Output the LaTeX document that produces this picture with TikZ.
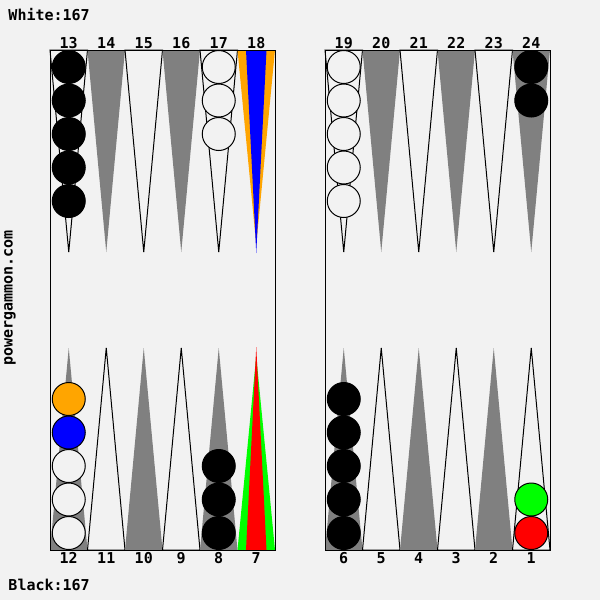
\documentclass[tikz,border=0pt]{standalone}
\usepackage{fontspec}
\setmonofont{DejaVu Sans Mono}
\usetikzlibrary{positioning}
\definecolor{boardbg}{RGB}{242,242,242}
\definecolor{pointgray}{RGB}{128,128,128}
\definecolor{chorange}{RGB}{255,165,0}
\definecolor{chgreen}{RGB}{0,255,0}

\begin{document}
\begin{tikzpicture}[x=0.5pt, y=-0.5pt, line width=0.5pt,
  lbl/.style={font=\fontsize{7.5}{9}\selectfont\ttfamily\bfseries, inner sep=0pt},
  darkpt/.style={fill=pointgray},
  lightpt/.style={fill=boardbg, draw=black},
  checker/.style={draw=black, line width=0.5pt}]
\useasboundingbox (0,0) rectangle (600,600);
\fill[boardbg] (0,0) rectangle (600,600);

% points, top row
\foreach \k in {0,...,4}{
  \pgfmathsetmacro{\xl}{50+37.5*\k}
  \ifodd\k \def\ptstyle{darkpt}\else \def\ptstyle{lightpt}\fi
  \path[\ptstyle] (\xl,50) -- ++(37.5,0) -- (\xl+18.75,252) -- cycle;
}
\foreach \k in {0,...,5}{
  \pgfmathsetmacro{\xl}{325+37.5*\k}
  \ifodd\k \def\ptstyle{darkpt}\else \def\ptstyle{lightpt}\fi
  \path[\ptstyle] (\xl,50) -- ++(37.5,0) -- (\xl+18.75,252) -- cycle;
}
% points, bottom row
\foreach \k in {0,...,4}{
  \pgfmathsetmacro{\xl}{50+37.5*\k}
  \ifodd\k \def\ptstyle{lightpt}\else \def\ptstyle{darkpt}\fi
  \path[\ptstyle] (\xl,550) -- ++(37.5,0) -- (\xl+18.75,348) -- cycle;
}
\foreach \k in {0,...,5}{
  \pgfmathsetmacro{\xl}{325+37.5*\k}
  \ifodd\k \def\ptstyle{lightpt}\else \def\ptstyle{darkpt}\fi
  \path[\ptstyle] (\xl,550) -- ++(37.5,0) -- (\xl+18.75,348) -- cycle;
}

% marked points 18 and 7
\fill[chorange] (237.5,50) -- (275,50) -- (256.25,245) -- cycle;
\fill[blue] (246,50) -- (266.5,50) -- (256.25,253) -- cycle;
\fill[chgreen] (237.5,550) -- (275,550) -- (256.25,356) -- cycle;
\fill[red] (246,550) -- (266.5,550) -- (256.25,347) -- cycle;

% checkers
\foreach \i in {0,...,4}{
  \filldraw[checker, fill=black] (68.75,67+33.5*\i) circle[radius=8.25pt];
  \filldraw[checker, fill=boardbg] (343.75,67+33.5*\i) circle[radius=8.25pt];
  \filldraw[checker, fill=black] (343.75,533-33.5*\i) circle[radius=8.25pt];
}
\foreach \i in {0,...,2}{
  \filldraw[checker, fill=boardbg] (218.75,67+33.5*\i) circle[radius=8.25pt];
  \filldraw[checker, fill=black] (218.75,533-33.5*\i) circle[radius=8.25pt];
  \filldraw[checker, fill=boardbg] (68.75,533-33.5*\i) circle[radius=8.25pt];
}
\foreach \i in {0,1}
  \filldraw[checker, fill=black] (531.25,67+33.5*\i) circle[radius=8.25pt];
\filldraw[checker, fill=blue] (68.75,432.5) circle[radius=8.25pt];
\filldraw[checker, fill=chorange] (68.75,399) circle[radius=8.25pt];
\filldraw[checker, fill=red] (531.25,533) circle[radius=8.25pt];
\filldraw[checker, fill=chgreen] (531.25,499.5) circle[radius=8.25pt];

% board frame
\draw (50,50) rectangle (275,550);
\draw (325,50) rectangle (550,550);

% point numbers
\foreach \n [count=\k from 0] in {13,14,15,16,17,18}{
  \node[lbl] (top\n) at (68.75+37.5*\k,43) {\n};
  \node[lbl] (top\the\numexpr\n+6\relax) at (343.75+37.5*\k,43) {\the\numexpr\n+6\relax};
}
\foreach \n [count=\k from 0] in {12,11,10,9,8,7}{
  \node[lbl] (bot\n) at (68.75+37.5*\k,558) {\n};
  \node[lbl] (bot\the\numexpr\n-6\relax) at (343.75+37.5*\k,558) {\the\numexpr\n-6\relax};
}

\node[lbl, anchor=west] (whitescore) at (8,15) {White:167};
\node[lbl, anchor=west] (blackscore) at (8,585) {Black:167};
\node[lbl, rotate=90] (site) at (10,298) {powergammon.com};
\end{tikzpicture}
\end{document}
